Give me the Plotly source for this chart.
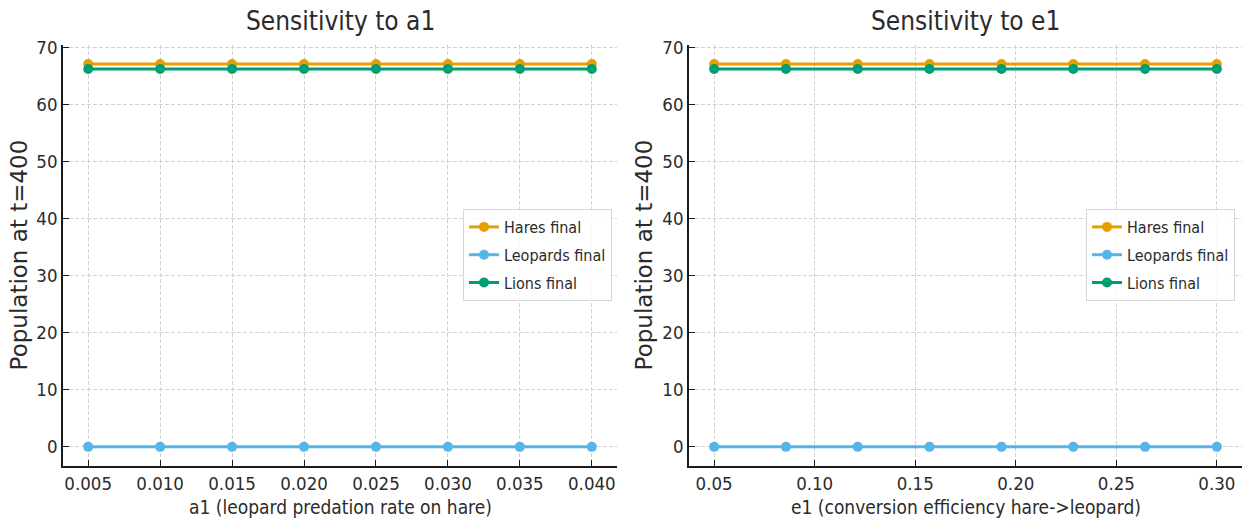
import plotly.graph_objects as go

a1_values = [0.005, 0.010, 0.015, 0.020, 0.025, 0.030, 0.035, 0.040]
e1_values = [0.05, 0.0857, 0.1214, 0.1571, 0.1929, 0.2286, 0.2643, 0.30]

hares_a1 = [67.2, 67.2, 67.2, 67.2, 67.2, 67.2, 67.2, 67.2]
leopards_a1 = [0.0, 0.0, 0.0, 0.0, 0.0, 0.0, 0.0, 0.0]
lions_a1 = [66.3, 66.3, 66.3, 66.3, 66.3, 66.3, 66.3, 66.3]

hares_e1 = [67.2, 67.2, 67.2, 67.2, 67.2, 67.2, 67.2, 67.2]
leopards_e1 = [0.0, 0.0, 0.0, 0.0, 0.0, 0.0, 0.0, 0.0]
lions_e1 = [66.3, 66.3, 66.3, 66.3, 66.3, 66.3, 66.3, 66.3]

y_ticks = [0, 10, 20, 30, 40, 50, 60, 70]
e1_ticks = [0.05, 0.10, 0.15, 0.20, 0.25, 0.30]

series_names = ["Hares final", "Leopards final", "Lions final"]
colors = ["#E69F00", "#56B4E9", "#009E73"]

FONT = "DejaVu Sans Condensed, DejaVu Sans, sans-serif"
FONT_WIDE = "DejaVu Sans, sans-serif"
TXT = "#2b2b2b"
W, H = 1243, 529

fig = go.Figure()

def add_series(xs, ys_list, xaxis, yaxis, legend, tag):
    for name, ys, c in zip(series_names, ys_list, colors):
        fig.add_trace(go.Scatter(
            x=xs, y=ys, mode="lines+markers", name=name,
            line=dict(color=c, width=3), marker=dict(color=c, size=10),
            xaxis=xaxis, yaxis=yaxis, legend=legend,
            legendgroup=name + tag,
        ))

add_series(a1_values, [hares_a1, leopards_a1, lions_a1], "x", "y", "legend", "1")
add_series(e1_values, [hares_e1, leopards_e1, lions_e1], "x2", "y2", "legend2", "2")

ydom = [1 - 466 / H, 1 - 44.8 / H]
xdom1 = [63 / W, 617 / W]
xdom2 = [689 / W, 1242 / W]
ymid = (ydom[0] + ydom[1]) / 2

axis_common = dict(
    showline=True, linecolor="#1a1a1a", linewidth=1.5, mirror=False,
    ticks="inside", ticklen=6, tickwidth=1.3, tickcolor="#1a1a1a",
    showgrid=True, gridcolor="#d2d2d2", gridwidth=0.9, griddash="4px,2px",
    zeroline=False, automargin=False,
    tickfont=dict(family=FONT, size=18.5, color=TXT),
)

legend_common = dict(
    xanchor="right", y=1 - 255 / H, yanchor="middle",
    bordercolor="#d6d6d6", borderwidth=1, bgcolor="rgba(255,255,255,0.85)",
    font=dict(family=FONT, size=16, color=TXT),
    tracegroupgap=4, traceorder="grouped",
)

fig.update_layout(
    template="none",
    width=W, height=H, autosize=False,
    margin=dict(l=0, r=0, t=0, b=0, pad=0, autoexpand=False),
    paper_bgcolor="white", plot_bgcolor="white",
    font=dict(family=FONT, color=TXT),
    xaxis=dict(domain=xdom1, range=[0.00325, 0.04175], tickvals=a1_values,
               tickformat=".3f", anchor="y", **axis_common),
    yaxis=dict(domain=ydom, range=[-3.36, 70.56], tickvals=y_ticks,
               anchor="x", **axis_common),
    xaxis2=dict(domain=xdom2, range=[0.0375, 0.3125], tickvals=e1_ticks,
                tickformat=".2f", anchor="y2", **axis_common),
    yaxis2=dict(domain=ydom, range=[-3.36, 70.56], tickvals=y_ticks,
                anchor="x2", **axis_common),
    legend=dict(x=612 / W, **legend_common),
    legend2=dict(x=1235 / W, **legend_common),
    showlegend=True,
)

annotations = [
    dict(text="Sensitivity to a1", x=(xdom1[0] + xdom1[1]) / 2, y=1 - 21 / H,
         font=dict(size=26, family=FONT)),
    dict(text="Sensitivity to e1", x=(xdom2[0] + xdom2[1]) / 2, y=1 - 21 / H,
         font=dict(size=26, family=FONT)),
    dict(text="a1 (leopard predation rate on hare)", x=(xdom1[0] + xdom1[1]) / 2, y=1 - 507 / H,
         font=dict(size=19, family=FONT)),
    dict(text="e1 (conversion efficiency hare->leopard)", x=(xdom2[0] + xdom2[1]) / 2, y=1 - 507 / H,
         font=dict(size=19, family=FONT)),
    dict(text="Population at t=400", x=19 / W, y=ymid, textangle=-90,
         font=dict(size=23, family=FONT_WIDE)),
    dict(text="Population at t=400", x=644 / W, y=ymid, textangle=-90,
         font=dict(size=23, family=FONT_WIDE)),
]
for a in annotations:
    a.update(xref="paper", yref="paper", showarrow=False, xanchor="center", yanchor="middle")
    a["font"].update(color=TXT)
fig.update_layout(annotations=annotations)

fig.write_html(
    "out.html",
    config={"displayModeBar": False},
    post_script="document.body.style.margin='0';document.body.style.overflow='hidden';",
)
